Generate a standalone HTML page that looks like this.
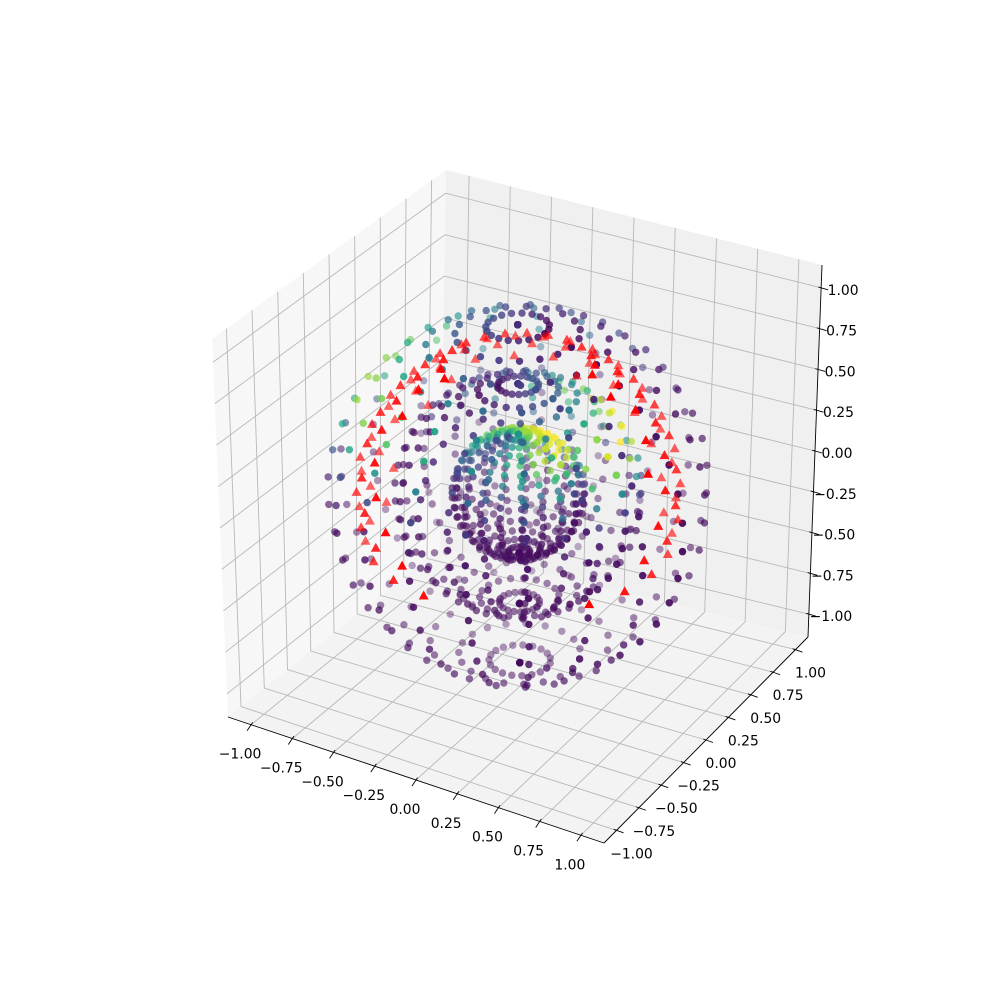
<!DOCTYPE html>
<html><head><meta charset="utf-8"><style>
html,body{margin:0;padding:0;background:#fff}
svg{display:block}
text{font-family:"DejaVu Sans","Liberation Sans",sans-serif;font-size:13.9px;fill:#000}
</style></head><body>
<svg id="chart" width="1000" height="1000" viewBox="0 0 1000 1000" xmlns="http://www.w3.org/2000/svg">
<g id="panes"></g>
<g id="grid"></g>
<g id="axes"></g>
<g id="dots"></g>
<g id="tris"></g>
</svg>
<script>
// ---- data ----
const tickValues = [-1, -0.75, -0.5, -0.25, 0, 0.25, 0.5, 0.75, 1];
const tickLabels = ["\u22121.00","\u22120.75","\u22120.50","\u22120.25","0.00","0.25","0.50","0.75","1.00"];
const sphereRadii = [1.0, 0.65, 0.35];
const gridCount = 20;
const colorPeak = [0.85, 1.0, 1.0];
const colorBandZ = [0.6, 0.55, 0.8];
const colorBandW = [0.22, 0.25, 0.3];
const colorBandPhiDeg = [200, 35, 60];
const colorPhiPower = [1, 1, 0.3];
const redRadius = 0.85;
const redThetaDeg = [28, 38, 48, 58, 68, 78, 88, 98, 108];
const redPhiCount = 22;

// ---- projection (trilinear on box corners) ----
const LIM = 1.14;
const C = {
  '000':[228,717],'100':[604,843],'110':[808,637],'010':[440,548],
  '001':[212,339],'101':[590,430],'111':[822,265],'011':[446,170]
};
function proj(x,y,z){
  const u=(x+LIM)/(2*LIM), v=(y+LIM)/(2*LIM), w=(z+LIM)/(2*LIM);
  let px=0,py=0;
  for(const k in C){
    const a=k[0]==='1'?u:1-u, b=k[1]==='1'?v:1-v, c=k[2]==='1'?w:1-w;
    const f=a*b*c; px+=f*C[k][0]; py+=f*C[k][1];
  }
  return [px,py];
}
const VIEW=[0.433,-0.75,0.5];
function depth(x,y,z){return x*VIEW[0]+y*VIEW[1]+z*VIEW[2];}
const NS='http://www.w3.org/2000/svg';
function mk(tag,attrs,parent){const e=document.createElementNS(NS,tag);for(const k in attrs)e.setAttribute(k,attrs[k]);parent.appendChild(e);return e;}
function poly(pts){return pts.map(p=>p[0].toFixed(1)+','+p[1].toFixed(1)).join(' ');}

// ---- panes ----
const panes=document.getElementById('panes');
const m=-LIM,M=LIM;
let e;
e=mk('polygon',{points:poly([proj(m,m,m),proj(m,M,m),proj(m,M,M),proj(m,m,M)]),fill:'#f7f7f7'},panes);


e=mk('polygon',{points:poly([proj(m,M,m),proj(M,M,m),proj(M,M,M),proj(m,M,M)]),fill:'#f0f0f0'},panes);


e=mk('polygon',{points:poly([proj(m,m,m),proj(M,m,m),proj(M,M,m),proj(m,M,m)]),fill:'#f3f3f3'},panes);



// ---- grid ----
const grid=document.getElementById('grid');
function gl3(a,b,c,name){const l=mk('polyline',{points:poly([a,b,c]),stroke:'#b8b8b8','stroke-width':0.9,fill:'none'},grid);

}
tickValues.forEach(t=>{
  gl3(proj(t,m,m),proj(t,M,m),proj(t,M,M),'x-gridline');
  gl3(proj(M,t,m),proj(m,t,m),proj(m,t,M),'y-gridline');
  gl3(proj(m,m,t),proj(m,M,t),proj(M,M,t),'z-gridline');
});

// ---- axes ----
const axes=document.getElementById('axes');
function axisLine(a,b,name){const l=mk('line',{x1:a[0],y1:a[1],x2:b[0],y2:b[1],stroke:'#000','stroke-width':0.9},axes);

}
axisLine(proj(m,m,m),proj(M,m,m),'x-axis-line');
axisLine(proj(M,m,m),proj(M,M,m),'y-axis-line');
axisLine(proj(M,M,m),proj(M,M,M),'z-axis-line');
function tick(p,dx,dy,lx,ly,label,name){
  const l=mk('line',{x1:p[0]-dx*0.4,y1:p[1]-dy*0.4,x2:p[0]+dx,y2:p[1]+dy,stroke:'#000','stroke-width':0.9},axes);
  
  
  const t=mk('text',{x:(p[0]+lx).toFixed(1),y:(p[1]+ly).toFixed(1),'text-anchor':'middle','dominant-baseline':'central'},axes);
  t.textContent=label;
  
  
}
tickValues.forEach((v,i)=>{
  tick(proj(v,m,m),-4,6,-11,30,tickLabels[i],'x');
  tick(proj(M,v,m),7,2.5,15,24,tickLabels[i],'y');
  tick(proj(M,M,v),7,2,22,3,tickLabels[i],'z');
});

// ---- viridis ----
const VIR=['#440154','#482475','#414487','#355f8d','#2a788e','#21918c','#22a884','#44bf70','#7ad151','#bddf26','#fde725'];
function hex(h){return [parseInt(h.substr(1,2),16),parseInt(h.substr(3,2),16),parseInt(h.substr(5,2),16)];}
function viridis(v){v=Math.max(0,Math.min(1,v));const s=v*10,i=Math.min(9,Math.floor(s)),f=s-i;
  const a=hex(VIR[i]),b=hex(VIR[i+1]);return 'rgb('+a.map((c,k)=>Math.round(c+(b[k]-c)*f)).join(',')+')';}

// ---- sphere points ----
const pts=[];
sphereRadii.forEach((r,si)=>{
  for(let i=0;i<gridCount;i++){
    const th=Math.PI*i/(gridCount-1);
    for(let j=0;j<gridCount;j++){
      const ph=2*Math.PI*j/(gridCount-1);
      const x=r*Math.sin(th)*Math.cos(ph), y=r*Math.sin(th)*Math.sin(ph), z=r*Math.cos(th);
      const zn=z/r;
      const band=Math.exp(-Math.pow(zn-colorBandZ[si],2)/(2*colorBandW[si]*colorBandW[si]));
      const pc=colorBandPhiDeg[si]*Math.PI/180;
      const az=Math.pow(0.5+0.5*Math.cos(ph-pc),colorPhiPower[si]);
      const val=0.03+colorPeak[si]*band*(i===0?0.6:az);
      pts.push({x,y,z,val,d:depth(x,y,z)});
    }
  }
});
const dots=document.getElementById('dots');
let dmin=Infinity,dmax=-Infinity;pts.forEach(p=>{dmin=Math.min(dmin,p.d);dmax=Math.max(dmax,p.d);});
pts.sort((a,b)=>a.d-b.d);
pts.forEach(p=>{
  const s=proj(p.x,p.y,p.z);
  const a=0.3+0.7*(p.d-dmin)/(dmax-dmin);
  const c=mk('circle',{cx:s[0].toFixed(1),cy:s[1].toFixed(1),r:3.7,fill:viridis(p.val),'fill-opacity':a.toFixed(2)},dots);
  
  
});

// ---- red triangles ----
const reds=[];
redThetaDeg.forEach((td,ti)=>{
  const th=td*Math.PI/180;
  for(let j=0;j<redPhiCount;j++){
    const ph=2*Math.PI*(j+0.5*(ti%2))/redPhiCount;
    const x=redRadius*Math.sin(th)*Math.cos(ph), y=redRadius*Math.sin(th)*Math.sin(ph), z=redRadius*Math.cos(th);
    const d=depth(x,y,z)/redRadius;
    if(Math.abs(d)<0.6 && z>-0.3) reds.push({x,y,z,d});
  }
});
const tris=document.getElementById('tris');
let rmin=Infinity,rmax=-Infinity;reds.forEach(p=>{rmin=Math.min(rmin,p.d);rmax=Math.max(rmax,p.d);});
reds.sort((a,b)=>a.d-b.d);
reds.forEach(p=>{
  const s=proj(p.x,p.y,p.z);
  const a=0.3+0.7*(p.d-rmin)/(rmax-rmin||1);
  const h=5;
  const t=mk('polygon',{points:poly([[s[0],s[1]-h],[s[0]-h,s[1]+h*0.8],[s[0]+h,s[1]+h*0.8]]),fill:'#ff0000','fill-opacity':Math.max(0.6,a).toFixed(2)},tris);
  
  
});
</script>
</body></html>
